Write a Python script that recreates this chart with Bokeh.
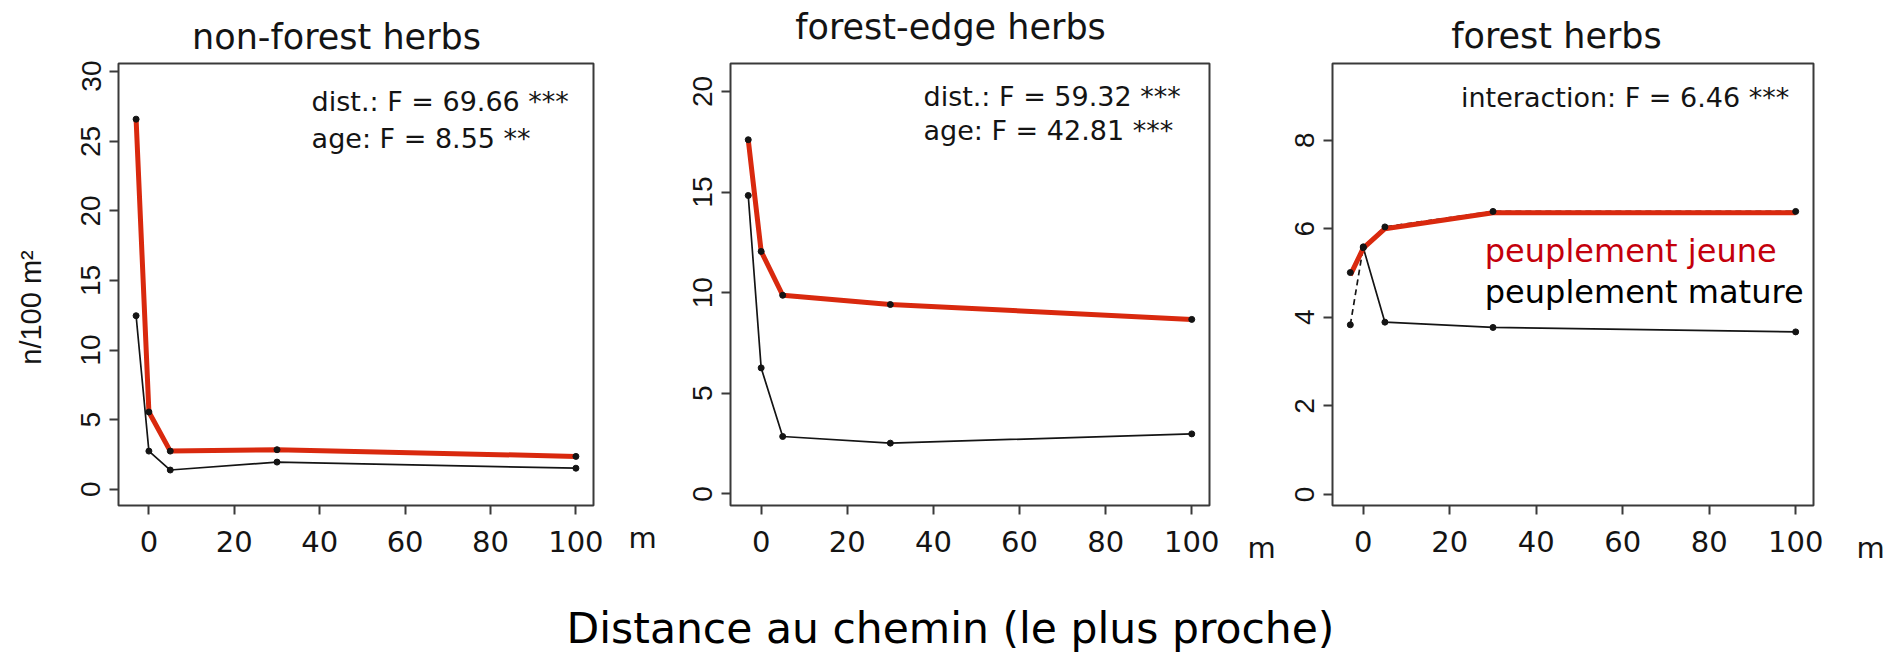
from bokeh.plotting import figure
from bokeh.models import Range1d, FixedTicker, Label
from bokeh.layouts import row, column
from bokeh.embed import file_html
from bokeh.resources import INLINE

# Distance from the path (m); the first sample lies on the path verge
distance = [-3, 0, 5, 30, 100]
x_ticks = [0, 20, 40, 60, 80, 100]

# non-forest herbs (n / 100 m²)
nonforest_jeune = [26.6, 5.55, 2.74, 2.84, 2.36]
nonforest_mature = [12.47, 2.74, 1.38, 1.95, 1.51]
nonforest_trait = [26.6, 5.55, 2.74, 2.84, 2.36]

# forest-edge herbs
edge_jeune = [17.6, 12.05, 9.87, 9.41, 8.67]
edge_mature = [14.83, 6.26, 2.85, 2.52, 2.98]
edge_trait = [17.6, 12.05, 9.87, 9.41, 8.67]

# forest herbs
forest_jeune = [3.83, 5.59, 6.04, 6.39, 6.39]
forest_mature = [5.01, 5.57, 3.89, 3.77, 3.67]
forest_trait = [4.95, 5.56, 6.00, 6.36, 6.36]

FONT = "DejaVu Sans"
FONT_R = "Liberation Sans"
INK = "#141414"
FRAME = "#3a3a3a"
RED_LINE = "#d9290e"
RED_TEXT = "#c4000c"

W = 1886
HEAD_H = 60
ROW_H = 518
FOOT_H = 655 - HEAD_H - ROW_H
B_TOP, B_BOTTOM = 3, 73           # frame margins shared by every plot of the row
FRAME_H = ROW_H - B_TOP - B_BOTTOM
TICK_OUT, X_STANDOFF = 9, 16


def blank(width, height, top=0, bottom=0, y_extent=None):
    """A figure without axes whose data units are pixels, used for free text."""
    b = figure(width=width, height=height,
               x_range=Range1d(0, width),
               y_range=Range1d(0, y_extent if y_extent else height),
               x_axis_location=None, y_axis_location=None,
               output_backend="svg", toolbar_location=None,
               min_border_left=0, min_border_right=0,
               min_border_top=top, min_border_bottom=bottom)
    b.grid.visible = False
    b.outline_line_color = None
    b.background_fill_color = "white"
    b.border_fill_color = "white"
    return b


def unit_label(width, x_pos, standoff=X_STANDOFF):
    """Narrow strip whose single axis label is the distance unit."""
    g = figure(width=width, height=ROW_H,
               x_range=Range1d(0, width), y_range=Range1d(0, 1),
               y_axis_location=None,
               output_backend="svg", toolbar_location=None,
               min_border_left=0, min_border_right=0,
               min_border_top=B_TOP, min_border_bottom=B_BOTTOM)
    g.grid.visible = False
    g.outline_line_color = None
    g.background_fill_color = "white"
    g.border_fill_color = "white"
    ax = g.xaxis[0]
    ax.ticker = FixedTicker(ticks=[x_pos])
    ax.major_label_overrides = {x_pos: "m"}
    ax.axis_line_color = None
    ax.major_tick_line_color = None
    ax.major_tick_out = TICK_OUT
    ax.major_tick_in = 0
    ax.minor_tick_line_color = None
    ax.major_label_standoff = standoff
    ax.major_label_text_font = FONT
    ax.major_label_text_font_size = "29px"
    ax.major_label_text_color = INK
    return g


def panel(width, b_left, b_right, y_start, y_end, y_ticks):
    p = figure(width=width, height=ROW_H,
               x_range=Range1d(-7.12, 104.12), y_range=Range1d(y_start, y_end),
               output_backend="svg", toolbar_location=None,
               min_border_left=b_left, min_border_right=b_right,
               min_border_top=B_TOP, min_border_bottom=B_BOTTOM)
    p.background_fill_color = "white"
    p.border_fill_color = "white"
    p.grid.visible = False
    p.outline_line_color = FRAME
    p.outline_line_width = 2
    p.xaxis.ticker = FixedTicker(ticks=x_ticks)
    p.yaxis.ticker = FixedTicker(ticks=y_ticks)
    for ax in p.axis:
        ax.axis_line_color = None
        ax.major_tick_line_color = FRAME
        ax.major_tick_line_width = 2
        ax.major_tick_out = TICK_OUT
        ax.major_tick_in = 0
        ax.minor_tick_line_color = None
        ax.major_label_text_color = INK
    p.xaxis.major_label_text_font = FONT
    p.xaxis.major_label_text_font_size = "29px"
    p.xaxis.major_label_standoff = X_STANDOFF
    p.yaxis.major_label_text_font = FONT_R
    p.yaxis.major_label_text_font_size = "28px"
    p.yaxis.major_label_orientation = "vertical"
    p.yaxis.major_label_standoff = 9
    return p


def draw(p, jeune, mature, trait):
    p.line(distance, jeune, line_color=INK, line_width=1.7, line_dash="6 4")
    p.line(distance, mature, line_color=INK, line_width=1.7)
    p.line(distance, trait, line_color=RED_LINE, line_width=5)
    p.scatter(distance, jeune, size=6, color=INK)
    p.scatter(distance, mature, size=6, color=INK)


def text(p, x, y, s, size, align="left", color=INK, angle=0, font=FONT):
    p.add_layout(Label(x=x, y=y, text=s, text_font=font, text_font_size=size,
                       text_align=align, text_baseline="middle",
                       text_color=color, angle=angle))


# panel titles
head = blank(W, HEAD_H)
text(head, 336, 23.1, "non-forest herbs", "35px", align="center")
text(head, 950, 33.8, "forest-edge herbs", "35px", align="center")
text(head, 1556, 24.2, "forest herbs", "35px", align="center")

# y-axis title
ylab = blank(60, ROW_H, top=B_TOP, bottom=B_BOTTOM, y_extent=FRAME_H)
text(ylab, 30.6, 198, "n/100 m²", "29px", align="center", angle=1.5708, font=FONT_R)

# panel 1: non-forest herbs
p1 = panel(563, 58, 30, -1.17, 30.6, [0, 5, 10, 15, 20, 25, 30])
draw(p1, nonforest_jeune, nonforest_mature, nonforest_trait)
text(p1, 38.1, 27.9, "dist.: F = 69.66 ***", "27px")
text(p1, 38.1, 25.2, "age: F = 8.55 **", "27px")

gap1 = unit_label(56, 19, standoff=6)

# panel 2: forest-edge herbs
p2 = panel(543, 51, 13, -0.58, 21.39, [0, 5, 10, 15, 20])
draw(p2, edge_jeune, edge_mature, edge_trait)
text(p2, 37.7, 19.73, "dist.: F = 59.32 ***", "27px")
text(p2, 37.7, 18.04, "age: F = 42.81 ***", "27px")

gap2 = unit_label(58, 39)

# panel 3: forest herbs
p3 = panel(548, 52, 15, -0.25, 9.73, [0, 2, 4, 6, 8])
draw(p3, forest_jeune, forest_mature, forest_trait)
text(p3, 22.6, 8.97, "interaction: F = 6.46 ***", "27px")
text(p3, 28.1, 5.49, "peuplement jeune", "32px", color=RED_TEXT)
text(p3, 28.1, 4.58, "peuplement mature", "32px", color="#000000")

gap3 = unit_label(58, 42)

# common x-axis title
foot = blank(W, FOOT_H)
text(foot, 950, 27, "Distance au chemin (le plus proche)", "42.5px", align="center", color="#000000")

layout = column(head, row(ylab, p1, gap1, p2, gap2, p3, gap3), foot)
open("out.html", "w").write(file_html(layout, INLINE))
